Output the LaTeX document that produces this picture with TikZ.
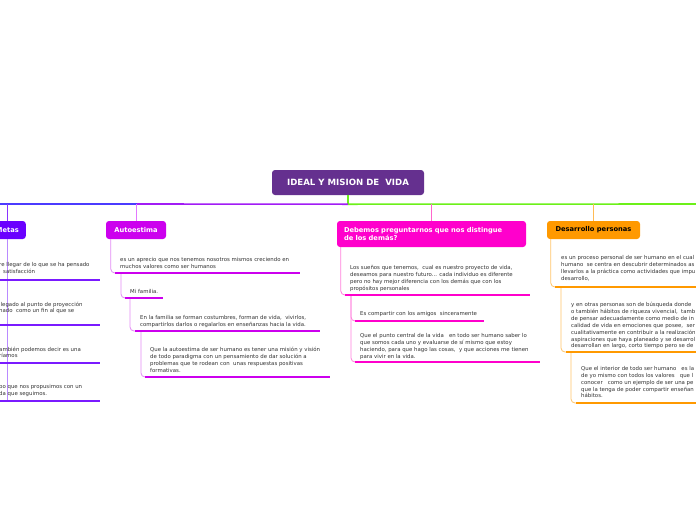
\documentclass[tikz,border=0pt]{standalone}
\usepackage{fontspec}
\setmainfont{DejaVu Sans}
\usetikzlibrary{positioning}
\definecolor{central}{HTML}{65308F}
\definecolor{metas}{HTML}{6A00FF}
\definecolor{autoe}{HTML}{CC00EE}
\definecolor{debem}{HTML}{FF00CC}
\definecolor{desar}{HTML}{FF9900}
\definecolor{txtgray}{HTML}{333333}
\tikzset{
  topic/.style={rounded corners=3pt,inner xsep=7pt,inner ysep=0pt,minimum height=18pt,
    font=\bfseries\fontsize{6.7}{8.5}\selectfont,text=white,align=left},
  subtxt/.style={anchor=north west,inner sep=0pt,align=left,text=txtgray,
    font=\fontsize{5.4}{6.9}\selectfont},
  bar/.style={line width=2.6pt},
  link/.style={line width=0.8pt,rounded corners=4pt},
  trunk/.style={line width=1.6pt},
}

\begin{document}
\begin{tikzpicture}[x=1pt,y=-1pt]
  \useasboundingbox[fill=white] (0,0) rectangle (696,520);
  % ---- central topic ----
  \node[topic,fill=central,minimum width=152pt,minimum height=25pt,font=\bfseries\fontsize{8.6}{10}\selectfont]
    (idea) at (348,182.5) {IDEAL Y MISION DE\ \ VIDA};
  \draw[trunk,color={rgb,255:red,108;green,240;blue,25}] (idea.south) -- ++(0,9) coordinate (hub);
  \draw[trunk,color={rgb,255:red,75;green,59;blue,255}] (0,204) -- (137,204);
  \draw[trunk,color={rgb,255:red,162;green,28;blue,245}] (137,204) -- (hub);
  \draw[trunk,color={rgb,255:red,108;green,240;blue,25}] (hub) -- (696,204);

  % ---- main topics ----
  \node[topic,fill=metas,anchor=east] (metas) at (26,230) {Metas};
  \node[topic,fill=autoe,minimum width=60pt] (auto) at (136,230) {Autoestima};
  \node[topic,fill=debem,minimum width=189pt,minimum height=26pt,text width=175pt] (debem) at (431.5,234)
    {Debemos preguntarnos que nos distingue\\de los demás?};
  \node[topic,fill=desar,minimum width=93pt,text=black] (desar) at (593.5,230) {Desarrollo personas};
  \draw[line width=0.9pt,color={rgb,255:red,138;green,51;blue,255}] (hub -| metas.north) -- (metas.north);
  \draw[line width=0.9pt,color={rgb,255:red,226;green,120;blue,255}] (hub -| auto.north) -- (auto.north);
  \draw[line width=0.9pt,color={rgb,255:red,255;green,102;blue,204}] (hub -| debem.north) -- (debem.north);
  \draw[line width=0.9pt,color={rgb,255:red,255;green,187;blue,85}] (hub -| desar.north) -- (desar.north);

  % ---- Metas (cut at the left edge) ----
  \coordinate (m1) at (-5,280); \coordinate (m2) at (-5,325);
  \coordinate (m3) at (-5,363); \coordinate (m4) at (-5,401);
  \draw[link,color={rgb,255:red,185;green,138;blue,255}] (metas.south) -- (metas.south |- m4);
  \foreach \b/\w in {m1/105,m2/105,m3/105,m4/105}
    \draw[bar,color={rgb,255:red,122;green,26;blue,255}] (\b) -- ++(\w,0);
  \node[subtxt] (mt1) at (-1,262.5) {re llegar de lo que se ha pensado\\\hspace*{4pt}satisfacción};
  \node[subtxt] (mt2) at (-1,301.5) {llegado al punto de proyección\\nado\ \ como un fin al que se};
  \node[subtxt] (mt3) at (-1,346.5) {ambién podemos decir es una\\ríamos};
  \node[subtxt] (mt4) at (-1,384.5) {po que nos propusimos con un\\da que seguimos.};

  % ---- Autoestima ----
  \coordinate (a1) at (115,273); \coordinate (a2) at (125,298);
  \coordinate (a3) at (135,331); \coordinate (a4) at (145,377);
  \begin{scope}[color={rgb,255:red,227;green,139;blue,245}]
    \draw[link] ([xshift=5pt]auto.south west) |- (a1);
    \draw[link] ([xshift=6pt]a1) |- (a2);
    \draw[link] ([xshift=5pt]a2) |- (a3);
    \draw[link] ([xshift=6pt]a3) |- (a4);
  \end{scope}
  \foreach \b/\w in {a1/185,a2/38,a3/185,a4/185}
    \draw[bar,autoe] (\b) -- ++(\w,0);
  \node[subtxt] (at1) at (120,257) {es un aprecio que nos tenemos nosotros mismos creciendo en\\muchos valores como ser humanos};
  \node[subtxt] (at2) at (130,289) {Mi familia.};
  \node[subtxt] (at3) at (140,315) {En la familia se forman costumbres, forman de vida,\ \ vivirlos,\\compartirlos darlos o regalarlos en enseñanzas hacia la vida.};
  \node[subtxt] (at4) at (150,347) {Que la autoestima de ser humano es tener una misión y visión\\de todo paradigma con un pensamiento de dar solución a\\problemas que te rodean con\ \ unas respuestas positivas\\formativas.};

  % ---- Debemos preguntarnos ----
  \coordinate (d1) at (345,295); \coordinate (d2) at (355,321); \coordinate (d3) at (355,362);
  \begin{scope}[color={rgb,255:red,255;green,128;blue,221}]
    \draw[link] ([xshift=4pt]debem.south west) |- (d1);
    \draw[link] ([xshift=6pt]d1) |- (d2);
    \draw[link] ([xshift=6pt]d1) |- (d3);
  \end{scope}
  \foreach \b/\w in {d1/185,d2/129,d3/185}
    \draw[bar,debem] (\b) -- ++(\w,0);
  \node[subtxt] (dt1) at (350,265) {Los sueños que tenemos,\ \ cual es nuestro proyecto de vida,\\deseamos para nuestro futuro... cada individuo es diferente\\pero no hay mejor diferencia con los demás que con los\\propósitos personales};
  \node[subtxt] (dt2) at (360,311) {Es compartir con los amigos\ \ sinceramente};
  \node[subtxt] (dt3) at (360,333) {Que el punto central de la vida\ \ \ en todo ser humano saber lo\\que somos cada uno y evaluarse de sí mismo que estoy\\haciendo, para que hago las cosas,\ \ y que acciones me tienen\\para vivir en la vida.};

  % ---- Desarrollo personas (cut at the right edge) ----
  \coordinate (p1) at (555,287); \coordinate (p2) at (566,352); \coordinate (p3) at (576,403);
  \begin{scope}[color={rgb,255:red,255;green,197;blue,107}]
    \draw[link] ([xshift=4pt]desar.south west) |- (p1);
    \draw[link] ([xshift=6pt]p1) |- (p2);
    \draw[link] ([xshift=5pt]p2) |- (p3);
  \end{scope}
  \foreach \b in {p1,p2,p3}
    \draw[bar,desar] (\b) -- (\b -| 700,0);
  \node[subtxt] (pt1) at (561,255) {es un proceso personal de ser humano en el cual\\humano\ \ se centra en descubrir determinados as\\llevarlos a la práctica como actividades que impu\\desarrollo,};
  \node[subtxt] (pt2) at (571,302) {y en otras personas son de búsqueda donde\\o también hábitos de riqueza vivencial,\ \ tamb\\de pensar adecuadamente como medio de in\\calidad de vida en emociones que posee,\ \ ser\\cualitativamente en contribuir a la realización\\aspiraciones que haya planeado y se desarrol\\desarrollan en largo, corto tiempo pero se de};
  \node[subtxt] (pt3) at (581,366) {Que el interior de todo ser humano\ \ \ es la\\de yo mismo con todos los valores\ \ \ que l\\conocer\ \ \ como un ejemplo de ser una pe\\que la tenga de poder compartir enseñan\\hábitos.};
\end{tikzpicture}
\end{document}
